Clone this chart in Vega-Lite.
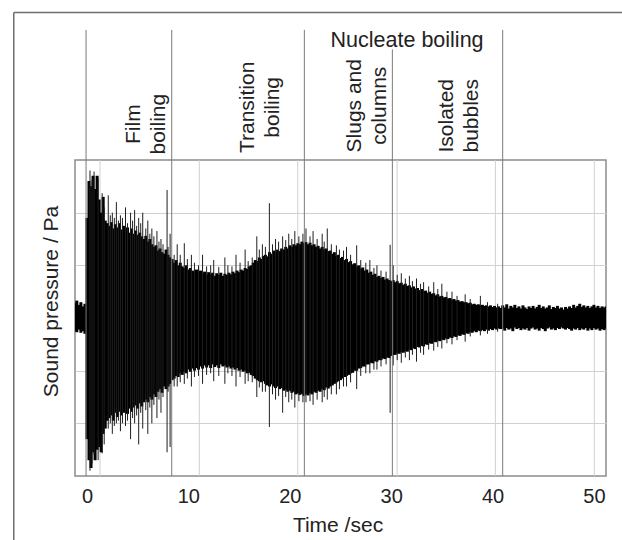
{
  "$schema": "https://vega.github.io/schema/vega-lite/v6.json",
  "autosize": "none",
  "width": 531,
  "height": 316,
  "padding": {"left": 75, "top": 160, "right": 16, "bottom": 64},
  "background": "white",
  "config": {
    "font": "Liberation Sans",
    "view": {"stroke": "#8c8c8c", "strokeWidth": 1.5},
    "axis": {"labelFont": "Liberation Sans", "titleFont": "Liberation Sans"}
  },
  "resolve": {"axis": {"x": "independent", "y": "independent"}},
  "datasets": {
    "grid": [{"t": 1.29}, {"t": 11.08}, {"t": 20.79}, {"t": 30.59}, {"t": 40.28}, {"t": 50.04}],
    "body": [
      {"t":-1.2,"hi":0.28,"lo":-0.24},{"t":-1.0,"hi":0.33,"lo":-0.27},{"t":-0.8,"hi":0.25,"lo":-0.22},{"t":-0.6,"hi":0.3,"lo":-0.28},{"t":-0.4,"hi":0.22,"lo":-0.25},{"t":-0.2,"hi":0.27,"lo":-0.3},
      {"t":0.0,"hi":1.9,"lo":-2.3},{"t":0.2,"hi":2.6,"lo":-2.7},{"t":0.4,"hi":2.5,"lo":-2.85},{"t":0.6,"hi":2.7,"lo":-2.55},{"t":0.8,"hi":2.45,"lo":-2.7},{"t":1.0,"hi":2.7,"lo":-2.5},{"t":1.2,"hi":2.25,"lo":-2.45},{"t":1.4,"hi":2.0,"lo":-2.55},{"t":1.6,"hi":2.3,"lo":-2.2},{"t":1.8,"hi":1.85,"lo":-2.1},
      {"t":2.0,"hi":1.8,"lo":-1.95},{"t":2.2,"hi":1.75,"lo":-1.9},{"t":2.4,"hi":1.82,"lo":-1.85},{"t":2.6,"hi":1.7,"lo":-1.95},{"t":2.8,"hi":1.78,"lo":-1.8},{"t":3.0,"hi":1.72,"lo":-1.88},{"t":3.2,"hi":1.8,"lo":-1.78},{"t":3.4,"hi":1.68,"lo":-1.85},{"t":3.6,"hi":1.75,"lo":-1.8},{"t":3.8,"hi":1.65,"lo":-1.76},
      {"t":4.0,"hi":1.72,"lo":-1.82},{"t":4.2,"hi":1.62,"lo":-1.72},{"t":4.4,"hi":1.7,"lo":-1.78},{"t":4.6,"hi":1.6,"lo":-1.7},{"t":4.8,"hi":1.66,"lo":-1.66},{"t":5.0,"hi":1.58,"lo":-1.72},{"t":5.2,"hi":1.62,"lo":-1.62},{"t":5.4,"hi":1.55,"lo":-1.68},{"t":5.6,"hi":1.5,"lo":-1.6},{"t":5.8,"hi":1.56,"lo":-1.55},
      {"t":6.0,"hi":1.45,"lo":-1.6},{"t":6.2,"hi":1.5,"lo":-1.5},{"t":6.4,"hi":1.4,"lo":-1.55},{"t":6.6,"hi":1.35,"lo":-1.45},{"t":6.8,"hi":1.38,"lo":-1.5},{"t":7.0,"hi":1.28,"lo":-1.4},{"t":7.2,"hi":1.32,"lo":-1.35},{"t":7.4,"hi":1.25,"lo":-1.42},{"t":7.6,"hi":1.22,"lo":-1.3},{"t":7.8,"hi":1.3,"lo":-1.35},
      {"t":8.0,"hi":1.2,"lo":-1.3},{"t":8.2,"hi":1.15,"lo":-1.25},{"t":8.4,"hi":1.12,"lo":-1.18},{"t":8.6,"hi":1.05,"lo":-1.15},{"t":8.8,"hi":1.1,"lo":-1.1},{"t":9.0,"hi":1.0,"lo":-1.12},{"t":9.2,"hi":1.05,"lo":-1.05},{"t":9.4,"hi":0.98,"lo":-1.08},{"t":9.6,"hi":0.95,"lo":-1.02},{"t":9.8,"hi":1.0,"lo":-1.05},
      {"t":10.0,"hi":0.92,"lo":-0.98},{"t":10.2,"hi":0.95,"lo":-1.02},{"t":10.4,"hi":0.9,"lo":-0.96},{"t":10.6,"hi":0.88,"lo":-1.0},{"t":10.8,"hi":0.92,"lo":-0.95},{"t":11.0,"hi":0.85,"lo":-0.98},{"t":11.2,"hi":0.9,"lo":-0.92},{"t":11.4,"hi":0.84,"lo":-0.96},{"t":11.6,"hi":0.88,"lo":-0.9},{"t":11.8,"hi":0.82,"lo":-0.94},
      {"t":12.0,"hi":0.87,"lo":-0.9},{"t":12.2,"hi":0.83,"lo":-0.95},{"t":12.4,"hi":0.86,"lo":-0.88},{"t":12.6,"hi":0.8,"lo":-0.93},{"t":12.8,"hi":0.85,"lo":-0.9},{"t":13.0,"hi":0.82,"lo":-0.95},{"t":13.2,"hi":0.86,"lo":-0.88},{"t":13.4,"hi":0.8,"lo":-0.92},{"t":13.6,"hi":0.84,"lo":-0.9},{"t":13.8,"hi":0.82,"lo":-0.94},
      {"t":14.0,"hi":0.86,"lo":-0.92},{"t":14.2,"hi":0.83,"lo":-0.96},{"t":14.4,"hi":0.88,"lo":-0.94},{"t":14.6,"hi":0.85,"lo":-0.98},{"t":14.8,"hi":0.9,"lo":-0.95},{"t":15.0,"hi":0.87,"lo":-1.0},{"t":15.2,"hi":0.92,"lo":-0.98},{"t":15.4,"hi":0.9,"lo":-1.02},{"t":15.6,"hi":0.95,"lo":-1.0},{"t":15.8,"hi":0.93,"lo":-1.05},
      {"t":16.0,"hi":0.98,"lo":-1.04},{"t":16.2,"hi":1.0,"lo":-1.08},{"t":16.4,"hi":1.05,"lo":-1.1},{"t":16.6,"hi":1.1,"lo":-1.15},{"t":16.8,"hi":1.08,"lo":-1.18},{"t":17.0,"hi":1.15,"lo":-1.2},{"t":17.2,"hi":1.12,"lo":-1.22},{"t":17.4,"hi":1.18,"lo":-1.2},{"t":17.6,"hi":1.2,"lo":-1.25},{"t":17.8,"hi":1.17,"lo":-1.28},
      {"t":18.0,"hi":1.25,"lo":-1.3},{"t":18.2,"hi":1.22,"lo":-1.26},{"t":18.4,"hi":1.28,"lo":-1.3},{"t":18.6,"hi":1.25,"lo":-1.33},{"t":18.8,"hi":1.3,"lo":-1.3},{"t":19.0,"hi":1.27,"lo":-1.35},{"t":19.2,"hi":1.32,"lo":-1.33},{"t":19.4,"hi":1.3,"lo":-1.38},{"t":19.6,"hi":1.35,"lo":-1.36},{"t":19.8,"hi":1.32,"lo":-1.4},
      {"t":20.0,"hi":1.38,"lo":-1.38},{"t":20.2,"hi":1.35,"lo":-1.42},{"t":20.4,"hi":1.4,"lo":-1.4},{"t":20.6,"hi":1.38,"lo":-1.45},{"t":20.8,"hi":1.42,"lo":-1.43},{"t":21.0,"hi":1.4,"lo":-1.46},{"t":21.2,"hi":1.45,"lo":-1.44},{"t":21.4,"hi":1.42,"lo":-1.48},{"t":21.6,"hi":1.44,"lo":-1.45},{"t":21.8,"hi":1.4,"lo":-1.47},
      {"t":22.0,"hi":1.43,"lo":-1.43},{"t":22.2,"hi":1.38,"lo":-1.45},{"t":22.4,"hi":1.4,"lo":-1.4},{"t":22.6,"hi":1.35,"lo":-1.42},{"t":22.8,"hi":1.37,"lo":-1.38},{"t":23.0,"hi":1.32,"lo":-1.4},{"t":23.2,"hi":1.35,"lo":-1.35},{"t":23.4,"hi":1.3,"lo":-1.37},{"t":23.6,"hi":1.32,"lo":-1.32},{"t":23.8,"hi":1.27,"lo":-1.34},
      {"t":24.0,"hi":1.28,"lo":-1.3},{"t":24.2,"hi":1.22,"lo":-1.28},{"t":24.4,"hi":1.25,"lo":-1.25},{"t":24.6,"hi":1.18,"lo":-1.22},{"t":24.8,"hi":1.2,"lo":-1.2},{"t":25.0,"hi":1.14,"lo":-1.18},{"t":25.2,"hi":1.16,"lo":-1.15},{"t":25.4,"hi":1.1,"lo":-1.12},{"t":25.6,"hi":1.12,"lo":-1.1},{"t":25.8,"hi":1.06,"lo":-1.08},
      {"t":26.0,"hi":1.08,"lo":-1.05},{"t":26.2,"hi":1.02,"lo":-1.04},{"t":26.4,"hi":1.04,"lo":-1.0},{"t":26.6,"hi":0.98,"lo":-1.0},{"t":26.8,"hi":1.0,"lo":-0.96},{"t":27.0,"hi":0.94,"lo":-0.95},{"t":27.2,"hi":0.96,"lo":-0.92},{"t":27.4,"hi":0.9,"lo":-0.92},{"t":27.6,"hi":0.92,"lo":-0.88},{"t":27.8,"hi":0.86,"lo":-0.88},
      {"t":28.0,"hi":0.88,"lo":-0.85},{"t":28.2,"hi":0.82,"lo":-0.86},{"t":28.4,"hi":0.84,"lo":-0.82},{"t":28.6,"hi":0.78,"lo":-0.83},{"t":28.8,"hi":0.8,"lo":-0.8},{"t":29.0,"hi":0.76,"lo":-0.8},{"t":29.2,"hi":0.78,"lo":-0.77},{"t":29.4,"hi":0.73,"lo":-0.78},{"t":29.6,"hi":0.75,"lo":-0.75},{"t":29.8,"hi":0.72,"lo":-0.76},
      {"t":30.0,"hi":0.7,"lo":-0.72},{"t":30.2,"hi":0.72,"lo":-0.7},{"t":30.4,"hi":0.68,"lo":-0.7},{"t":30.6,"hi":0.7,"lo":-0.67},{"t":30.8,"hi":0.66,"lo":-0.68},{"t":31.0,"hi":0.67,"lo":-0.65},{"t":31.2,"hi":0.63,"lo":-0.66},{"t":31.4,"hi":0.65,"lo":-0.63},{"t":31.6,"hi":0.61,"lo":-0.64},{"t":31.8,"hi":0.62,"lo":-0.6},
      {"t":32.0,"hi":0.58,"lo":-0.61},{"t":32.2,"hi":0.6,"lo":-0.58},{"t":32.4,"hi":0.56,"lo":-0.59},{"t":32.6,"hi":0.57,"lo":-0.55},{"t":32.8,"hi":0.53,"lo":-0.56},{"t":33.0,"hi":0.55,"lo":-0.53},{"t":33.2,"hi":0.51,"lo":-0.54},{"t":33.4,"hi":0.52,"lo":-0.5},{"t":33.6,"hi":0.48,"lo":-0.51},{"t":33.8,"hi":0.5,"lo":-0.48},
      {"t":34.0,"hi":0.46,"lo":-0.49},{"t":34.2,"hi":0.47,"lo":-0.45},{"t":34.4,"hi":0.43,"lo":-0.46},{"t":34.6,"hi":0.45,"lo":-0.43},{"t":34.8,"hi":0.41,"lo":-0.44},{"t":35.0,"hi":0.42,"lo":-0.41},{"t":35.2,"hi":0.39,"lo":-0.42},{"t":35.4,"hi":0.4,"lo":-0.39},{"t":35.6,"hi":0.37,"lo":-0.4},{"t":35.8,"hi":0.38,"lo":-0.37},
      {"t":36.0,"hi":0.35,"lo":-0.38},{"t":36.2,"hi":0.36,"lo":-0.35},{"t":36.4,"hi":0.33,"lo":-0.36},{"t":36.6,"hi":0.34,"lo":-0.33},{"t":36.8,"hi":0.31,"lo":-0.34},{"t":37.0,"hi":0.32,"lo":-0.31},{"t":37.2,"hi":0.3,"lo":-0.32},{"t":37.4,"hi":0.3,"lo":-0.29},{"t":37.6,"hi":0.28,"lo":-0.3},{"t":37.8,"hi":0.29,"lo":-0.27},
      {"t":38.0,"hi":0.26,"lo":-0.28},{"t":38.2,"hi":0.27,"lo":-0.25},{"t":38.4,"hi":0.25,"lo":-0.27},{"t":38.6,"hi":0.26,"lo":-0.24},{"t":38.8,"hi":0.24,"lo":-0.25},{"t":39.0,"hi":0.25,"lo":-0.23},{"t":39.2,"hi":0.23,"lo":-0.25},{"t":39.4,"hi":0.24,"lo":-0.22},{"t":39.6,"hi":0.22,"lo":-0.24},{"t":39.8,"hi":0.24,"lo":-0.21},
      {"t":40.0,"hi":0.21,"lo":-0.23},{"t":40.2,"hi":0.23,"lo":-0.2},{"t":40.4,"hi":0.2,"lo":-0.22},{"t":40.6,"hi":0.22,"lo":-0.2},{"t":40.8,"hi":0.19,"lo":-0.21},{"t":41.0,"hi":0.24,"lo":-0.2},{"t":41.2,"hi":0.2,"lo":-0.24},{"t":41.4,"hi":0.26,"lo":-0.19},{"t":41.6,"hi":0.18,"lo":-0.22},{"t":41.8,"hi":0.23,"lo":-0.2},
      {"t":42.0,"hi":0.2,"lo":-0.25},{"t":42.2,"hi":0.25,"lo":-0.18},{"t":42.4,"hi":0.19,"lo":-0.21},{"t":42.6,"hi":0.22,"lo":-0.19},{"t":42.8,"hi":0.18,"lo":-0.23},{"t":43.0,"hi":0.24,"lo":-0.2},{"t":43.2,"hi":0.2,"lo":-0.22},{"t":43.4,"hi":0.17,"lo":-0.19},{"t":43.6,"hi":0.22,"lo":-0.24},{"t":43.8,"hi":0.19,"lo":-0.2},
      {"t":44.0,"hi":0.23,"lo":-0.18},{"t":44.2,"hi":0.18,"lo":-0.22},{"t":44.4,"hi":0.21,"lo":-0.2},{"t":44.6,"hi":0.25,"lo":-0.24},{"t":44.8,"hi":0.19,"lo":-0.19},{"t":45.0,"hi":0.22,"lo":-0.21},{"t":45.2,"hi":0.18,"lo":-0.25},{"t":45.4,"hi":0.2,"lo":-0.2},{"t":45.6,"hi":0.24,"lo":-0.18},{"t":45.8,"hi":0.17,"lo":-0.22},
      {"t":46.0,"hi":0.21,"lo":-0.2},{"t":46.2,"hi":0.19,"lo":-0.23},{"t":46.4,"hi":0.23,"lo":-0.19},{"t":46.6,"hi":0.18,"lo":-0.21},{"t":46.8,"hi":0.2,"lo":-0.18},{"t":47.0,"hi":0.16,"lo":-0.2},{"t":47.2,"hi":0.21,"lo":-0.22},{"t":47.4,"hi":0.18,"lo":-0.19},{"t":47.6,"hi":0.22,"lo":-0.21},{"t":47.8,"hi":0.19,"lo":-0.24},
      {"t":48.0,"hi":0.25,"lo":-0.2},{"t":48.2,"hi":0.2,"lo":-0.22},{"t":48.4,"hi":0.23,"lo":-0.19},{"t":48.6,"hi":0.27,"lo":-0.23},{"t":48.8,"hi":0.21,"lo":-0.2},{"t":49.0,"hi":0.24,"lo":-0.22},{"t":49.2,"hi":0.2,"lo":-0.19},{"t":49.4,"hi":0.23,"lo":-0.24},{"t":49.6,"hi":0.19,"lo":-0.2},{"t":49.8,"hi":0.22,"lo":-0.23},
      {"t":50.0,"hi":0.25,"lo":-0.19},{"t":50.2,"hi":0.2,"lo":-0.22},{"t":50.4,"hi":0.23,"lo":-0.2},{"t":50.6,"hi":0.19,"lo":-0.24},{"t":50.8,"hi":0.22,"lo":-0.21},{"t":51.0,"hi":0.2,"lo":-0.23},{"t":51.2,"hi":0.22,"lo":-0.2}
    ],
    "spikes": [
      {"t":0.3,"hi":2.8,"lo":-2.9},{"t":0.5,"hi":2.62,"lo":-2.76},{"t":0.7,"hi":2.78,"lo":-2.6},{"t":1.1,"hi":2.65,"lo":-2.7},{"t":1.5,"hi":2.37,"lo":-2.57},{"t":1.7,"hi":2.1,"lo":-2.4},
      {"t":2.1,"hi":2.33,"lo":-2.1},{"t":2.5,"hi":2.0,"lo":-2.2},{"t":2.9,"hi":2.2,"lo":-2.0},{"t":3.3,"hi":1.95,"lo":-2.15},{"t":3.8,"hi":2.1,"lo":-2.05},{"t":4.3,"hi":2.0,"lo":-2.3},
      {"t":4.7,"hi":2.05,"lo":-2.0},{"t":5.1,"hi":1.9,"lo":-2.4},{"t":5.5,"hi":2.0,"lo":-2.1},{"t":6.0,"hi":1.85,"lo":-2.2},{"t":6.4,"hi":1.7,"lo":-2.0},{"t":6.9,"hi":1.65,"lo":-1.9},
      {"t":7.3,"hi":1.5,"lo":-1.8},{"t":7.9,"hi":2.43,"lo":-2.55},{"t":8.2,"hi":1.6,"lo":-2.45},{"t":8.9,"hi":1.4,"lo":-1.3},{"t":9.6,"hi":1.42,"lo":-1.25},{"t":10.3,"hi":1.2,"lo":-1.3},
      {"t":11.4,"hi":1.2,"lo":-1.25},{"t":12.5,"hi":1.1,"lo":-1.2},{"t":13.6,"hi":1.15,"lo":-1.25},{"t":14.7,"hi":1.2,"lo":-1.3},{"t":15.6,"hi":1.3,"lo":-1.25},{"t":16.75,"hi":1.55,"lo":-1.5},
      {"t":17.3,"hi":1.4,"lo":-1.4},{"t":17.99,"hi":2.18,"lo":-2.07},{"t":18.6,"hi":1.5,"lo":-1.55},{"t":19.3,"hi":1.55,"lo":-1.8},{"t":19.9,"hi":1.6,"lo":-1.6},{"t":20.5,"hi":1.65,"lo":-1.7},
      {"t":21.6,"hi":1.7,"lo":-1.6},{"t":22.3,"hi":1.65,"lo":-1.65},{"t":23.2,"hi":1.6,"lo":-1.6},{"t":23.7,"hi":1.7,"lo":-1.55},{"t":24.6,"hi":1.38,"lo":-1.45},{"t":25.6,"hi":1.35,"lo":-1.3},
      {"t":26.6,"hi":1.38,"lo":-1.35},{"t":27.9,"hi":1.1,"lo":-1.05},{"t":28.6,"hi":1.0,"lo":-0.98},{"t":29.9,"hi":1.39,"lo":-1.8},{"t":30.2,"hi":1.0,"lo":-0.9},{"t":31.0,"hi":0.85,"lo":-0.85},
      {"t":31.8,"hi":0.8,"lo":-0.8},{"t":32.5,"hi":0.75,"lo":-0.83},{"t":33.2,"hi":0.68,"lo":-0.7},{"t":34.2,"hi":0.68,"lo":-0.62},{"t":35.0,"hi":0.65,"lo":-0.58},{"t":36.0,"hi":0.5,"lo":-0.5},
      {"t":37.3,"hi":0.45,"lo":-0.45},{"t":38.8,"hi":0.42,"lo":-0.33},
      {"t":2.3,"hi":1.95,"lo":-2.0},{"t":2.7,"hi":1.9,"lo":-2.05},{"t":3.1,"hi":1.85,"lo":-1.95},{"t":3.5,"hi":1.9,"lo":-2.0},{"t":4.0,"hi":1.8,"lo":-1.95},{"t":4.5,"hi":1.85,"lo":-1.9},
      {"t":4.9,"hi":1.75,"lo":-1.85},{"t":5.3,"hi":1.8,"lo":-1.8},{"t":5.8,"hi":1.7,"lo":-1.75},{"t":6.2,"hi":1.6,"lo":-1.7},{"t":6.6,"hi":1.55,"lo":-1.65},{"t":7.1,"hi":1.45,"lo":-1.55},
      {"t":7.5,"hi":1.4,"lo":-1.5},{"t":8.0,"hi":1.35,"lo":-1.4},{"t":8.6,"hi":1.2,"lo":-1.3},{"t":9.2,"hi":1.2,"lo":-1.22},{"t":9.9,"hi":1.12,"lo":-1.15},{"t":10.6,"hi":1.05,"lo":-1.12},
      {"t":11.0,"hi":1.0,"lo":-1.1},{"t":11.8,"hi":0.98,"lo":-1.08},{"t":12.2,"hi":1.0,"lo":-1.05},{"t":13.0,"hi":0.97,"lo":-1.1},{"t":13.9,"hi":1.0,"lo":-1.05},{"t":14.3,"hi":0.98,"lo":-1.1},
      {"t":15.1,"hi":1.05,"lo":-1.12},{"t":15.9,"hi":1.08,"lo":-1.2},{"t":16.3,"hi":1.15,"lo":-1.22},{"t":17.0,"hi":1.3,"lo":-1.32},{"t":17.6,"hi":1.35,"lo":-1.4},{"t":18.3,"hi":1.4,"lo":-1.45},
      {"t":18.9,"hi":1.45,"lo":-1.48},{"t":19.6,"hi":1.48,"lo":-1.5},{"t":20.2,"hi":1.5,"lo":-1.55},{"t":20.9,"hi":1.55,"lo":-1.58},{"t":21.3,"hi":1.6,"lo":-1.6},{"t":22.0,"hi":1.55,"lo":-1.58},
      {"t":22.7,"hi":1.5,"lo":-1.55},{"t":23.4,"hi":1.45,"lo":-1.5},{"t":24.1,"hi":1.4,"lo":-1.45},{"t":24.9,"hi":1.3,"lo":-1.35},{"t":25.3,"hi":1.28,"lo":-1.3},{"t":26.0,"hi":1.2,"lo":-1.22},
      {"t":27.0,"hi":1.1,"lo":-1.1},{"t":27.5,"hi":1.05,"lo":-1.05},{"t":28.3,"hi":0.95,"lo":-0.98},{"t":29.0,"hi":0.9,"lo":-0.92},{"t":29.5,"hi":0.88,"lo":-0.88},{"t":30.6,"hi":0.82,"lo":-0.8},
      {"t":31.4,"hi":0.75,"lo":-0.75},{"t":32.1,"hi":0.7,"lo":-0.7},{"t":32.9,"hi":0.65,"lo":-0.66},{"t":33.7,"hi":0.6,"lo":-0.6},{"t":34.6,"hi":0.55,"lo":-0.55},{"t":35.5,"hi":0.5,"lo":-0.48},
      {"t":36.5,"hi":0.42,"lo":-0.42},{"t":37.8,"hi":0.36,"lo":-0.35},{"t":39.5,"hi":0.3,"lo":-0.3},{"t":40.5,"hi":0.27,"lo":-0.26}
    ],
    "regions": [
      {"t": -0.09, "top": 5.47}, {"t": 8.36, "top": 5.47}, {"t": 21.44, "top": 5.47}, {"t": 30.12, "top": 5.1}, {"t": 41.0, "top": 5.47}
    ],
    "frame": [
      {"t": -7.22, "t2": 53.0, "v": 5.8, "v2": 5.8},
      {"t": -7.22, "t2": -7.22, "v": 5.8, "v2": -4.3}
    ],
    "phases": [
      {"label": "Film\nboiling", "t": 4.66, "v": 3.68},
      {"label": "Transition\nboiling", "t": 15.9, "v": 4.0},
      {"label": "Slugs and\ncolumns", "t": 26.48, "v": 4.03},
      {"label": "Isolated\nbubbles", "t": 35.46, "v": 3.84}
    ],
    "header": [{"label": "Nucleate boiling", "t": 31.57, "v": 5.145}]
  },
  "layer": [
    {
      "data": {"name": "grid"},
      "mark": {"type": "rule", "color": "#d0d0d0", "strokeWidth": 1},
      "encoding": {
        "x": {"field": "t", "type": "quantitative", "scale": {"domain": [-1.18, 51.19], "nice": false, "zero": false},
              "axis": {"orient": "bottom", "title": "Time /sec", "values": [0, 10, 20, 30, 40, 50], "grid": false, "ticks": false, "domain": false,
                       "labelFontSize": 20, "labelColor": "#222", "labelPadding": 10,
                       "titleFontSize": 21, "titleFontWeight": "normal", "titleColor": "#222",
                       "titleBaseline": "alphabetic", "titleAlign": "center", "titleX": 262.5, "titleY": 55.7}}
      }
    },
    {
      "data": {"name": "body"},
      "mark": {"type": "rule", "color": "#000000", "strokeWidth": 3, "clip": true},
      "encoding": {
        "x": {"field": "t", "type": "quantitative", "scale": {"domain": [-1.18, 51.19], "nice": false, "zero": false}, "axis": null},
        "y": {"field": "hi", "type": "quantitative",
              "scale": {"domain": [-3, 3], "nice": false, "zero": false},
              "axis": {"orient": "left", "title": "Sound pressure / Pa", "values": [-2, -1, 0, 1, 2], "grid": true, "gridColor": "#d0d0d0", "gridWidth": 1,
                       "labels": false, "ticks": false, "domain": false,
                       "titleFontSize": 21, "titleFontWeight": "normal", "titleColor": "#222",
                       "titleAngle": 270, "titleBaseline": "alphabetic", "titleAlign": "center", "titleX": -17.5, "titleY": 141}},
        "y2": {"field": "lo"}
      }
    },
    {
      "data": {"name": "spikes"},
      "mark": {"type": "rule", "color": "#1e1e1e", "strokeWidth": 1, "clip": true},
      "encoding": {
        "x": {"field": "t", "type": "quantitative", "scale": {"domain": [-1.18, 51.19], "nice": false, "zero": false}, "axis": null},
        "y": {"field": "hi", "type": "quantitative", "scale": {"domain": [-3, 3], "nice": false, "zero": false}, "axis": null},
        "y2": {"field": "lo"}
      }
    },
    {
      "data": {"name": "regions"},
      "mark": {"type": "rule", "color": "#7a7a7a", "strokeWidth": 1},
      "encoding": {
        "x": {"field": "t", "type": "quantitative", "scale": {"domain": [-1.18, 51.19], "nice": false, "zero": false}, "axis": null},
        "y": {"field": "top", "type": "quantitative", "scale": {"domain": [-3, 3], "nice": false, "zero": false}, "axis": null},
        "y2": {"datum": -3}
      }
    },
    {
      "data": {"name": "frame"},
      "mark": {"type": "rule", "color": "#6e6e6e", "strokeWidth": 1.5},
      "encoding": {
        "x": {"field": "t", "type": "quantitative", "scale": {"domain": [-1.18, 51.19], "nice": false, "zero": false}, "axis": null},
        "x2": {"field": "t2"},
        "y": {"field": "v", "type": "quantitative", "scale": {"domain": [-3, 3], "nice": false, "zero": false}, "axis": null},
        "y2": {"field": "v2"}
      }
    },
    {
      "data": {"name": "phases"},
      "mark": {"type": "text", "angle": 270, "align": "center", "baseline": "middle", "lineBreak": "\n",
               "fontSize": 21, "lineHeight": 25, "color": "#222"},
      "encoding": {
        "x": {"field": "t", "type": "quantitative", "scale": {"domain": [-1.18, 51.19], "nice": false, "zero": false}, "axis": null},
        "y": {"field": "v", "type": "quantitative", "scale": {"domain": [-3, 3], "nice": false, "zero": false}, "axis": null},
        "text": {"field": "label"}
      }
    },
    {
      "data": {"name": "header"},
      "mark": {"type": "text", "align": "center", "baseline": "alphabetic", "fontSize": 21.5, "color": "#222"},
      "encoding": {
        "x": {"field": "t", "type": "quantitative", "scale": {"domain": [-1.18, 51.19], "nice": false, "zero": false}, "axis": null},
        "y": {"field": "v", "type": "quantitative", "scale": {"domain": [-3, 3], "nice": false, "zero": false}, "axis": null},
        "text": {"field": "label"}
      }
    }
  ]
}
